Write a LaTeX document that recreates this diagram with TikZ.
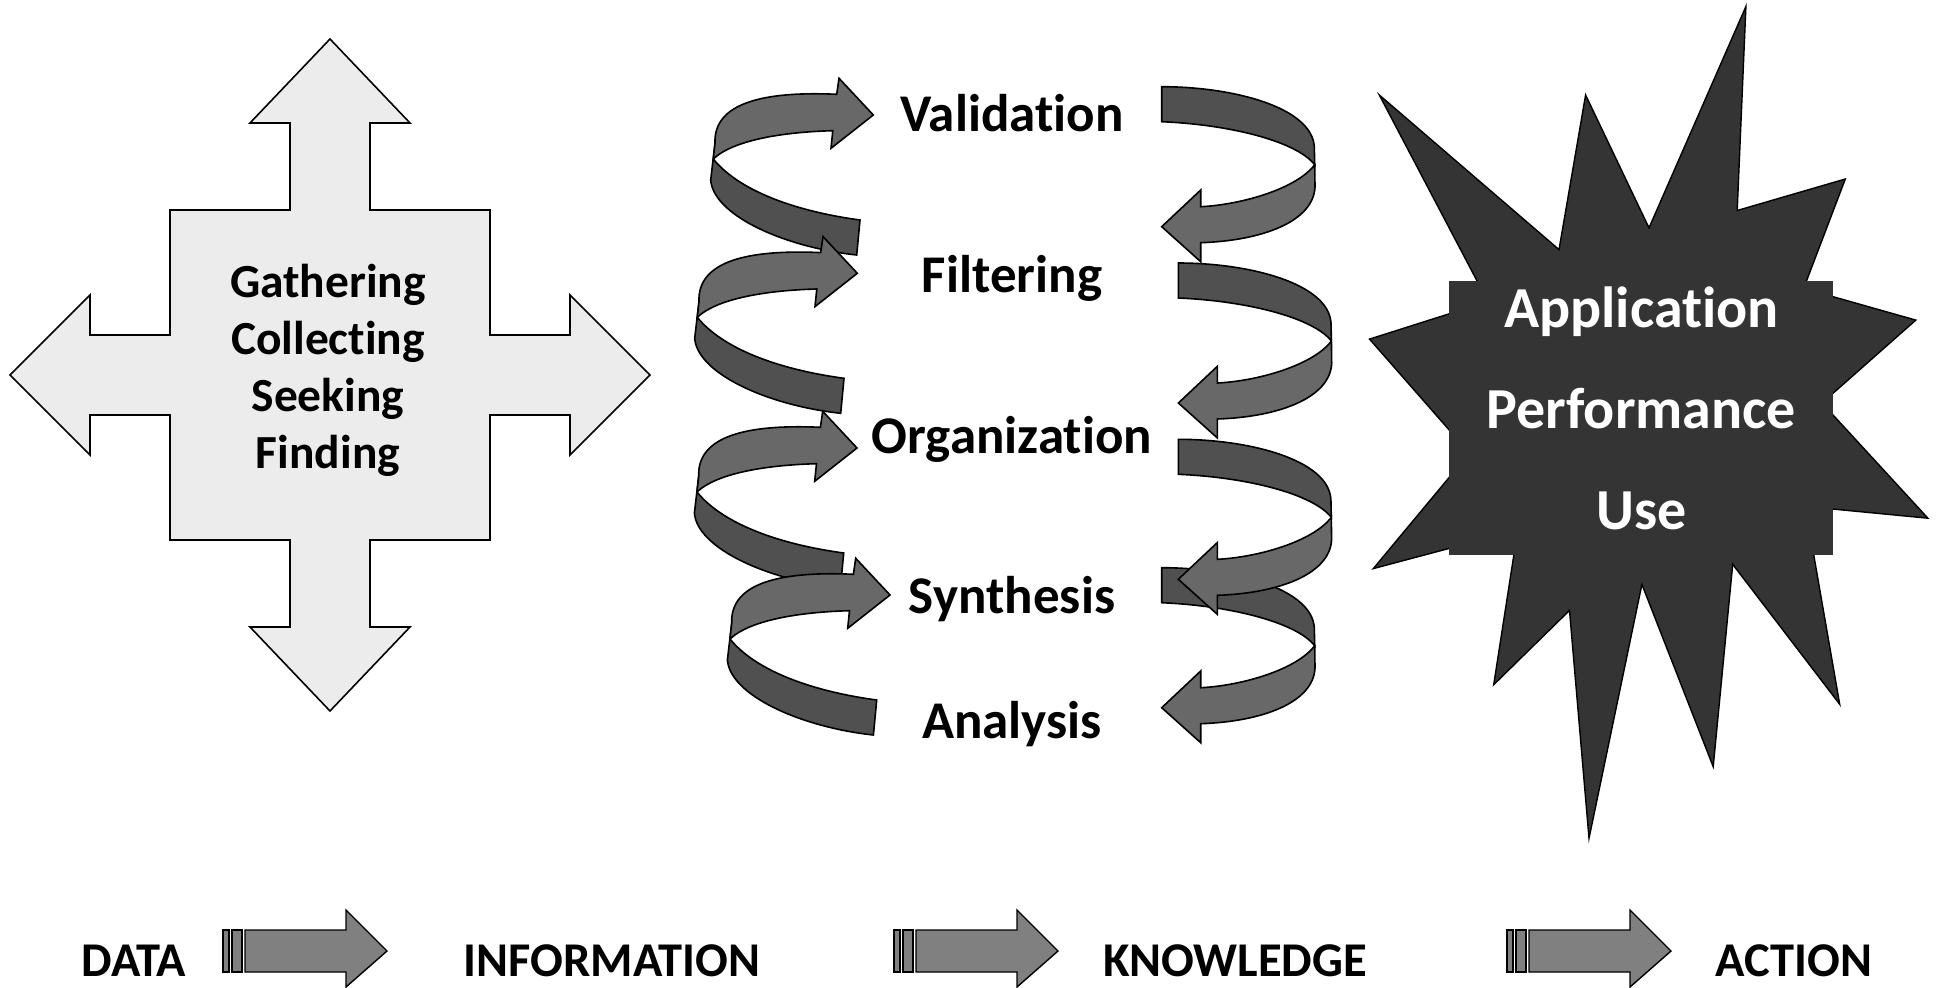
\documentclass[tikz,border=0pt]{standalone}
\usepackage{fontspec}
\setmainfont{Carlito}[Ligatures=NoCommon]
\definecolor{crossfill}{RGB}{236,236,236}
\definecolor{coillight}{RGB}{104,104,104}
\definecolor{coildark}{RGB}{80,80,80}
\definecolor{burstfill}{RGB}{52,52,52}
\definecolor{flowfill}{RGB}{128,128,128}
\begin{document}
\begin{tikzpicture}[x=1pt,y=-1pt,
  outline/.style={draw=black,line width=1.6pt,line join=miter},
  crossshape/.style={outline,fill=crossfill},
  lightband/.style={outline,fill=coillight},
  darkband/.style={outline,fill=coildark},
  flowshape/.style={draw=black,line width=1.4pt,fill=flowfill},
  stagelabel/.style={font=\fontsize{53}{60}\selectfont\bfseries,anchor=base,inner sep=0pt},
  gatherlabel/.style={font=\fontsize{47.5}{56}\selectfont\bfseries,anchor=base,inner sep=0pt},
  burstlabel/.style={font=\fontsize{58}{64}\selectfont\bfseries,text=white,anchor=base,inner sep=0pt},
  flowlabel/.style={font=\fontsize{48.5}{56}\selectfont\bfseries,anchor=base,inner sep=0pt},
  % coil on the left: tail below, head on top pointing right (origin = arrow tip)
  leftcoil/.pic={
    \path[darkband] (-158.3,28.3) -- (-162.6,65)
      .. controls (-160,100) and (-90,132) .. (-16.6,140) -- (-13.3,105)
      .. controls (-80,96) and (-135,75) .. (-160,44) -- cycle;
    \path[lightband] (-158.3,28.3)
      .. controls (-160,-12) and (-110,-24) .. (-36.6,-20.7)
      -- (-34.3,-36.7) -- (0,0) -- (-42.3,33.3) -- (-40.5,15.7)
      .. controls (-90,17) and (-140,25) .. (-160,44) -- cycle;
  },
  % coil on the right: tail on top, head below pointing left (origin = arrow tip)
  rightcoil/.pic={
    \path[darkband] (0,-140) .. controls (70,-140) and (150,-120) .. (152.6,-80)
      -- (153,-62) .. controls (135,-85) and (70,-102) .. (0,-105) -- cycle;
    \path[lightband] (153,-62) .. controls (135,-38) and (80,-22) .. (39,-20)
      -- (39,-36.7) -- (0,0) -- (39,35) -- (39,16)
      .. controls (100,14) and (152,-5) .. (153.3,-40) -- cycle;
  },
  % striped block arrow of the bottom row (origin = left end, mid height)
  flowarrow/.pic={
    \path[flowshape] (0,-21) rectangle (6,21);
    \path[flowshape] (9,-21) rectangle (19,21);
    \path[flowshape] (22,-21) -- (123,-21) -- (123,-41) -- (164,0) -- (123,36)
      -- (123,21) -- (22,21) -- cycle;
  }
]
\useasboundingbox (0,0) rectangle (1939,988);

% four-way arrow
\path[crossshape] (330,39) -- (410,123) -- (370,123) -- (370,210) -- (490,210)
  -- (490,335) -- (570,335) -- (570,295) -- (650,375) -- (570,455) -- (570,415)
  -- (490,415) -- (490,540) -- (370,540) -- (370,627) -- (410,627) -- (330,711)
  -- (250,627) -- (290,627) -- (290,540) -- (170,540) -- (170,415) -- (90,415)
  -- (90,455) -- (10,375) -- (90,295) -- (90,335) -- (170,335) -- (170,210)
  -- (290,210) -- (290,123) -- (250,123) -- cycle;
\node[gatherlabel] (gathering)  at (328,297) {Gathering};
\node[gatherlabel] (collecting) at (328,354) {Collecting};
\node[gatherlabel] (seeking)    at (328,411) {Seeking};
\node[gatherlabel] (finding)    at (328,468) {Finding};

% helix of coils
\pic at (873.3,115) {leftcoil};
\pic at (857.3,273.3) {leftcoil};
\pic at (857,448) {leftcoil};
\pic at (890,595) {leftcoil};
\pic at (1161.7,707.7) {rightcoil};
\pic at (1178.3,579.3) {rightcoil};
\pic at (1178.4,403) {rightcoil};
\pic at (1161.7,226.7) {rightcoil};

\node[stagelabel] (validation)   at (1012,131.5) {Validation};
\node[stagelabel] (filtering)    at (1012,292) {Filtering};
\node[stagelabel] (organization) at (1012,453) {Organization};
\node[stagelabel] (synthesis)    at (1012,613) {Synthesis};
\node[stagelabel] (analysis)     at (1012,738) {Analysis};

% starburst with its text panel
\path[draw=black,line width=1.4pt,fill=burstfill,line join=miter]
  (1379.3,95) -- (1559,249.6) -- (1585.6,95) -- (1649,227.9) -- (1745.9,6.5)
  -- (1737.2,210.5) -- (1845.3,179) -- (1800,298) -- (1820,293)
  -- (1915.8,320.1) -- (1822,403) -- (1927.9,518.2) -- (1822,508)
  -- (1812,545) -- (1839.7,704.3) -- (1732.7,564.3) -- (1713.2,766.7)
  -- (1641.9,584.4) -- (1589,838.3) -- (1569.5,610.4) -- (1493.7,684.7)
  -- (1515.4,545) -- (1462,545) -- (1373.3,568.6) -- (1457,468)
  -- (1458,440) -- (1369.5,339.1) -- (1458,311) -- (1481.7,289.8) -- cycle;
\fill[burstfill] (1449.4,280.5) rectangle (1833,554.5);
\node[burstlabel] (application) at (1641.5,327) {Application};
\node[burstlabel] (performance) at (1641.5,428) {Performance};
\node[burstlabel] (use)         at (1641.5,529) {Use};

% bottom row
\node[flowlabel] (data)        at (134,976) {DATA};
\node[flowlabel] (information) at (612,976) {INFORMATION};
\node[flowlabel] (knowledge)   at (1235,976) {KNOWLEDGE};
\node[flowlabel] (action)      at (1794,976) {ACTION};
\pic at (223,951) {flowarrow};
\pic at (894,951) {flowarrow};
\pic at (1507,951) {flowarrow};
\end{tikzpicture}
\end{document}
